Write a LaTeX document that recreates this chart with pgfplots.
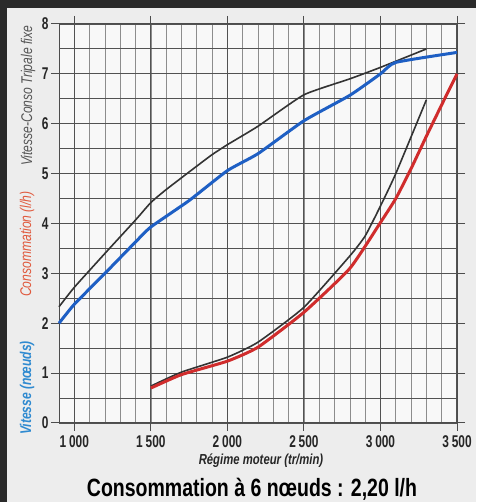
\documentclass[border=0pt]{standalone}
\usepackage{pgfplots}
\pgfplotsset{compat=1.18}
\usepackage{fontspec}
\setmainfont{Liberation Sans}[FakeStretch=0.78]
\newfontfamily\condfont{Liberation Sans}[FakeStretch=0.7]
\definecolor{bg}{HTML}{EDEDED}
\definecolor{darkb}{HTML}{2A2A2A}
\definecolor{cblue}{HTML}{1E5FC4}
\definecolor{cred}{HTML}{D02C2C}
\definecolor{cblack}{HTML}{333333}
\definecolor{lblue}{HTML}{2F8AD0}
\definecolor{lred}{HTML}{E0583C}
\definecolor{lgray}{HTML}{555555}
\newcommand{\tl}{\condfont\bfseries\fontsize{17}{17}\selectfont}
\begin{document}
\begin{tikzpicture}
\useasboundingbox (0pt,0pt) rectangle (476pt,502pt);
\fill[bg] (0pt,0pt) rectangle (476pt,502pt);
\fill[darkb] (0pt,0pt) rectangle (7pt,502pt);
\fill[darkb] (0pt,494pt) rectangle (476pt,502pt);
\begin{axis}[
  at={(59pt,79pt)}, anchor=south west,
  scale only axis, width=398pt, height=399pt,
  xmin=900, xmax=3500, ymin=0, ymax=8,
  axis background/.style={fill=white!60!bg},
  xtick={1000,1500,2000,2500,3000,3500},
  xticklabels={{\tl 1\,000},{\tl 1\,500},{\tl 2\,000},{\tl 2\,500},{\tl 3\,000},{\tl 3\,500}},
  minor xtick={900,1000,...,3500},
  ytick={0,1,...,8},
  yticklabels={{\tl 0},{\tl 1},{\tl 2},{\tl 3},{\tl 4},{\tl 5},{\tl 6},{\tl 7},{\tl 8}},
  extra y ticks={0.5,1.5,2.5,3.5,4.5,5.5,6.5,7.5},
  extra y tick labels={},
  extra y tick style={grid=major, major tick length=0pt},
  xmajorgrids, xminorgrids, ymajorgrids,
  major grid style={line width=1.1pt, color=black!68},
  minor grid style={line width=0.6pt, color=black!45},
  axis line style={line width=1pt, color=black!70},
  tick align=outside,
  major tick length=8pt, minor tick length=0pt,
  every tick/.style={line width=1pt, color=black!70},
  /pgf/number format/assume math mode=true,
  tick label style={text=black!85},
  xticklabel style={yshift=-1pt},
  yticklabel style={xshift=1pt},
  clip=false,
]
\addplot[cblack, line width=1.6pt, smooth, tension=0.3] coordinates {
(900,2.33) (1000,2.72) (1200,3.4) (1400,4.07) (1500,4.42) (1600,4.68) (1800,5.15) (1900,5.38) (2000,5.58) (2200,5.95) (2500,6.58) (2800,6.9) (3000,7.13) (3300,7.5)};
\addplot[cblue, line width=3pt, smooth, tension=0.3] coordinates {
(900,2.0) (1000,2.38) (1200,3.0) (1400,3.63) (1500,3.93) (1750,4.46) (2000,5.06) (2200,5.4) (2500,6.06) (2800,6.57) (3000,7.0) (3100,7.23) (3500,7.43)};
\addplot[cblack, line width=1.6pt, smooth, tension=0.3] coordinates {
(1500,0.74) (1700,1.02) (2000,1.32) (2200,1.62) (2500,2.32) (2800,3.35) (2900,3.75) (3000,4.35) (3100,5.0) (3300,6.48)};
\addplot[cred, line width=3pt, smooth, tension=0.3] coordinates {
(1500,0.7) (1700,0.97) (2000,1.24) (2200,1.52) (2500,2.22) (2800,3.1) (3000,4.02) (3100,4.5) (3200,5.1) (3300,5.75) (3400,6.38) (3500,7.0)};
\end{axis}
\node[rotate=90, text=lblue, font=\bfseries\itshape\fontsize{15.5}{15.5}\selectfont] at (27pt,114pt) {Vitesse (nœuds)};
\node[rotate=90, text=lred, font=\itshape\fontsize{15.5}{15.5}\selectfont] at (27pt,258pt) {Consommation (l/h)};
\node[rotate=90, text=lgray, font=\itshape\fontsize{15.5}{15.5}\selectfont] at (28pt,406pt) {Vitesse-Conso Tripale fixe};
\node[text=black!85, font=\bfseries\itshape\fontsize{14.5}{14.5}\selectfont] at (261pt,41pt) {Régime moteur (tr/min)};
\node[text=black, font=\bfseries\fontsize{25}{25}\selectfont] at (252pt,13pt) {Consommation à 6 nœuds : 2,20 l/h};
\end{tikzpicture}
\end{document}
